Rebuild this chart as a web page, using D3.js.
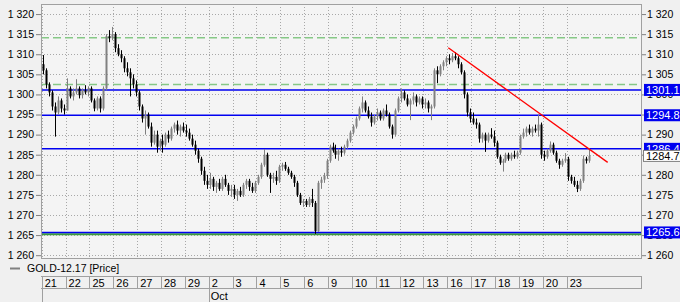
<!DOCTYPE html>
<html><head><meta charset="utf-8">
<script src="https://cdn.jsdelivr.net/npm/d3@7"></script>
<style>
body{margin:0;background:#f0f0f0;}
svg{display:block;font-family:"Liberation Sans",Arial,sans-serif;}
</style>
</head><body><svg id="c" width="680" height="302"></svg>
<script>
// ---------- data ----------
const dayLabels = ["21","22","25","26","27","28","29","2","3","4","5","6","9","10","11","12","13","16","17","18","19","20","23"];
const monthLabels = [{day: 7, text: "Oct"}];
const yTicks = [1260,1265,1270,1275,1280,1285,1290,1295,1300,1305,1310,1315,1320];
const barsPerDay = 8;
// [open, high, low, close], 8 bars per trading day
const ohlc = [
 // 21
 [1307.5,1309.8,1305,1306],[1306,1306.5,1301.5,1302.5],[1302.5,1303,1299.5,1300.5],[1300.5,1301,1296,1297],
 [1297,1298,1289.5,1295.5],[1295.5,1299.5,1295,1298.5],[1298.5,1299,1295.5,1296.5],[1296.5,1297.5,1295,1296],
 // 22
 [1296,1304,1296,1301.5],[1301.5,1302,1299,1299.5],[1299.5,1301.5,1298.5,1300.5],[1300.5,1303.8,1300,1301.5],
 [1301.5,1302,1299,1299.8],[1299.8,1301.5,1299,1301],[1301,1302.3,1300,1300.5],[1300.5,1302,1299.5,1301.5],
 // 25
 [1301.5,1302,1298,1298.5],[1298.5,1299,1295.8,1296.5],[1296.5,1299.5,1296,1299],[1299,1299.5,1295.5,1296.5],
 [1296.5,1302,1296,1301.5],[1301.5,1315,1301,1314.5],[1314.5,1316,1313,1314],[1314,1316.8,1313.5,1315],
 // 26
 [1315,1315.5,1310.5,1311.5],[1311.5,1312.5,1309.5,1310],[1310,1311,1308,1309],[1309,1309.5,1305.5,1306.5],
 [1306.5,1308,1304.5,1305.5],[1305.5,1306.5,1299.5,1304],[1304,1305,1301.5,1302.5],[1302.5,1303.5,1299.5,1300.5],
 // 27
 [1300.5,1301,1296,1297],[1297,1297.5,1293,1294],[1294,1296,1290,1295],[1295,1295.5,1291.5,1292],
 [1292,1293,1287,1288],[1288,1291,1287.5,1290],[1290,1291,1285.5,1287],[1287,1289,1286,1288.5],
 // 28
 [1288.5,1290,1285.5,1287.5],[1287.5,1290.5,1287,1290],[1290,1291,1288,1289],[1289,1292,1288.5,1291.5],
 [1291.5,1293,1290.5,1292.5],[1292.5,1293.5,1290,1291],[1291,1292.5,1289.5,1292],[1292,1293,1290.5,1291],
 // 29
 [1291,1292.5,1289.5,1290.5],[1290.5,1291.5,1288.5,1289],[1289,1290,1287,1287.5],[1287.5,1288.5,1285,1286],
 [1286,1286.5,1283,1284],[1284,1284.5,1280,1281],[1281,1282,1277.5,1278.5],[1278.5,1280,1276.5,1277.5],
 // 2 Oct
 [1277.5,1280.5,1276.5,1279],[1279,1279.5,1276,1277],[1277,1278.5,1275.5,1278],[1278,1279,1276,1276.5],
 [1276.5,1279.5,1276,1279],[1279,1280,1277,1277.5],[1277.5,1278,1275,1276],[1276,1277.5,1274.5,1276.5],
 // 3
 [1276.5,1277.5,1274,1275],[1275,1276.5,1273.5,1276],[1276,1277,1274.5,1275],[1275,1278,1274.5,1277.5],
 [1277.5,1279,1276.5,1278.5],[1278.5,1279,1276,1277],[1277,1278,1275.5,1276],[1276,1278.5,1275.5,1278],
 // 4
 [1278,1280,1277.5,1279.5],[1279.5,1283,1279,1282.5],[1282.5,1286.4,1282,1285],[1285,1285.5,1279.5,1280],
 [1280,1280.5,1275.5,1279],[1279,1280.5,1278,1279.5],[1279.5,1281,1277.5,1278.5],[1278.5,1282.5,1278,1282],
 // 5
 [1282,1283,1281,1282.5],[1282.5,1283.2,1281,1281.5],[1281.5,1282,1280,1280.5],[1280.5,1281,1279,1279.5],
 [1279.5,1280,1277,1278],[1278,1278.5,1274.5,1275],[1275,1275.5,1272.5,1273],[1273,1274,1272,1273.5],
 // 6
 [1273.5,1274,1272,1272.5],[1272.5,1274.5,1272,1274],[1274,1276.5,1272,1273],[1273,1273.5,1265.3,1266],
 [1266,1278.5,1265.8,1278],[1278,1279.5,1276.5,1278.8],[1278.8,1280.5,1278,1279.8],[1279.8,1284,1279,1283.5],
 // 9
 [1283.5,1287.5,1283,1287],[1287,1288,1285.5,1286],[1286,1287.5,1284,1285],[1285,1286.5,1283.5,1286],
 [1286,1287,1284.5,1285.5],[1285.5,1287.5,1285,1287],[1287,1289,1286.5,1288.5],[1288.5,1291,1288,1290.5],
 // 10
 [1290.5,1292.5,1290,1292],[1292,1294.5,1291.5,1294],[1294,1297,1293.5,1296.5],[1296.5,1299.5,1295.5,1298],
 [1298,1298.5,1295.5,1296],[1296,1297,1294,1294.5],[1294.5,1295.5,1292,1293],[1293,1295,1292.5,1294.5],
 // 11
 [1294.5,1296.5,1293.5,1295.5],[1295.5,1296,1293.5,1294],[1294,1296.5,1293.5,1296],[1296,1297.5,1294.5,1295],
 [1295,1295.5,1291.5,1292],[1292,1292.5,1289,1290],[1290,1296.5,1289.5,1296],[1296,1299.5,1295.5,1299],
 // 12
 [1299,1301.5,1298,1300.5],[1300.5,1301,1298.5,1299],[1299,1300,1297,1297.5],[1297.5,1299,1293.6,1298.5],
 [1298.5,1300.5,1297.5,1299.5],[1299.5,1300,1297,1298],[1298,1299.5,1297.5,1299],[1299,1299.5,1296.5,1297.5],
 // 13
 [1297.5,1299,1296.5,1298],[1298,1298.5,1295.5,1296.5],[1296.5,1297.5,1293.6,1297],[1297,1306.5,1296.5,1306],
 [1306,1307,1302.8,1305],[1305,1307.5,1304.5,1307],[1307,1308.5,1306,1308],[1308,1309.5,1307,1309],
 // 16
 [1309,1310,1307.5,1308.5],[1308.5,1310.3,1308,1309.5],[1309.5,1310.5,1308.5,1309],[1309,1309.5,1306.5,1307.5],
 [1307.5,1308,1305,1305.5],[1305.5,1306,1299,1300],[1300,1300.5,1294.5,1295.5],[1295.5,1296.5,1293,1294],
 // 17
 [1294,1295.5,1292.5,1293],[1293,1294,1291.5,1292.5],[1292.5,1293,1288,1289],[1289,1290.5,1288,1290],
 [1290,1290.5,1285.7,1288.5],[1288.5,1290.5,1288,1290],[1290,1291.6,1289,1289.5],[1289.5,1291,1287,1288],
 // 18
 [1288,1288.5,1284,1284.5],[1284.5,1285,1282.5,1283],[1283,1284,1280.8,1283.5],[1283.5,1285.5,1283,1285],
 [1285,1285.5,1283.5,1284],[1284,1285.5,1283.5,1285],[1285,1286,1284,1284.5],[1284.5,1286,1284,1285.5],
 // 19
 [1285.5,1290,1285,1289.5],[1289.5,1291.5,1289,1290.5],[1290.5,1292,1289.5,1291.5],[1291.5,1292.5,1290,1290.5],
 [1290.5,1292,1289.5,1291.5],[1291.5,1292.5,1290.5,1291],[1291,1295,1289.5,1292.5],[1292.5,1293,1284,1285],
 // 20
 [1285,1286,1283.5,1284.5],[1284.5,1286.5,1284,1286],[1286,1288.3,1285.5,1287.5],[1287.5,1288,1285,1285.5],
 [1285.5,1286,1283,1283.5],[1283.5,1284,1281.5,1282.5],[1282.5,1284,1282,1283.5],[1283.5,1285.4,1283,1284],
 // 23
 [1284,1284.5,1278.5,1279.5],[1279.5,1280,1277.8,1278.5],[1278.5,1279.5,1277,1277.5],[1277.5,1278.5,1275.7,1276.5],
 [1276.5,1279,1276,1278.5],[1278.5,1284.8,1278,1284],[1284,1284.5,1282.8,1283.5],[1283.5,1286.6,1283,1284.7]
];
const greenDashedLevels = [1314.1, 1302.5];
const blueLevels = [1301.12, 1294.82, 1286.46, 1265.66];
const greenSolidLevels = [1265.2];
const trendLine = [[17.04, 1311.6], [23.72, 1283.1]];   // [day index, price]
const lastPrice = 1284.70;
const seriesName = "GOLD-12.17 [Price]";

// ---------- layout ----------
const svg = d3.select("#c");
const L = 41, R = 642, T = 4, B = 258;
const x = d3.scaleLinear().domain([0, 25.15]).range([41.7, 641.8]);
const y = d3.scaleLinear().domain([1259.3, 1322.5]).range([B, T]);
const fmt = d => d3.format(",")(d).replace(/,/g, " ");
const fontSize = "10.5px";

svg.append("rect").attr("x",0).attr("y",0).attr("width",680).attr("height",302).attr("fill","#f0f0f0");
svg.append("rect").attr("x",L).attr("y",T).attr("width",R-L).attr("height",B-T).attr("fill","#f4f4f4");

svg.append("clipPath").attr("id","clip").append("rect").attr("x",L).attr("y",T).attr("width",R-L).attr("height",B-T);
const plot = svg.append("g").attr("clip-path","url(#clip)");

// grid
plot.selectAll("line.hg").data(yTicks).join("line")
  .attr("x1",L).attr("x2",R).attr("y1",d=>Math.round(y(d))+0.5).attr("y2",d=>Math.round(y(d))+0.5)
  .attr("stroke","#a8a8a8").attr("stroke-dasharray","1,2");
plot.selectAll("line.vg").data(d3.range(dayLabels.length)).join("line")
  .attr("x1",d=>Math.round(x(d))+0.5).attr("x2",d=>Math.round(x(d))+0.5).attr("y1",T).attr("y2",B)
  .attr("stroke","#a8a8a8").attr("stroke-dasharray","1,2");

// level lines
plot.selectAll("line.gd").data(greenDashedLevels).join("line")
  .attr("x1",L).attr("x2",R).attr("y1",d=>y(d)).attr("y2",d=>y(d))
  .attr("stroke","#86c886").attr("stroke-width",1.5).attr("stroke-dasharray","8,4");
plot.selectAll("line.gs").data(greenSolidLevels).join("line")
  .attr("x1",L).attr("x2",R).attr("y1",d=>y(d)).attr("y2",d=>y(d))
  .attr("stroke","#3c9c3c").attr("stroke-width",2);
plot.selectAll("line.bl").data(blueLevels).join("line")
  .attr("x1",L).attr("x2",R).attr("y1",d=>y(d)).attr("y2",d=>y(d))
  .attr("stroke","#0000f0").attr("stroke-width",1.5);

// candles
const bw = (x(1)-x(0))/barsPerDay;
const bx = i => x(Math.floor(i/barsPerDay)) + (i%barsPerDay + 0.5)*bw;
const cg = plot.append("g");
ohlc.forEach((b,i) => {
  const [o,h,l,c] = b;
  const col = c >= o ? "#808080" : "#000000";
  const cx = Math.round(bx(i));
  cg.append("line").attr("x1",cx+0.5).attr("x2",cx+0.5).attr("y1",y(h)).attr("y2",y(l)).attr("stroke",col).attr("stroke-width",1);
  const top = y(Math.max(o,c)), bot = y(Math.min(o,c));
  cg.append("rect").attr("x",cx-0.5).attr("width",2).attr("y",top).attr("height",Math.max(1,bot-top)).attr("fill",col);
});

// trend line
plot.append("line")
  .attr("x1",x(trendLine[0][0])).attr("y1",y(trendLine[0][1]))
  .attr("x2",x(trendLine[1][0])).attr("y2",y(trendLine[1][1]))
  .attr("stroke","#ff0000").attr("stroke-width",1.3);

// plot border
svg.append("rect").attr("x",L+0.5).attr("y",T+0.5).attr("width",R-L-1).attr("height",B-T).attr("fill","none").attr("stroke","#a0a0a0");

// axes
const la = svg.append("g").attr("transform",`translate(${L},0)`)
  .call(d3.axisLeft(y).tickValues(yTicks).tickFormat(fmt).tickSize(5).tickPadding(2));
const ra = svg.append("g").attr("transform",`translate(${R},0)`)
  .call(d3.axisRight(y).tickValues(yTicks).tickFormat(fmt).tickSize(4).tickPadding(1));
[la,ra].forEach(a => {
  a.select(".domain").remove();
  a.selectAll("line").attr("stroke","#808080");
  a.selectAll("text").attr("fill","#000").style("font-size",fontSize).style("font-family",'"Liberation Sans",Arial,sans-serif');
});

// right-side value labels
const lab = svg.append("g");
blueLevels.forEach(v => {
  lab.append("rect").attr("x",644).attr("y",y(v)-6).attr("width",40).attr("height",12).attr("fill","#0000f0");
  lab.append("text").attr("x",646).attr("y",y(v)).attr("dy","0.35em").attr("fill","#fff")
    .style("font-size","11px").text(d3.format(".2f")(v));
});
lab.append("rect").attr("x",643.5).attr("y",y(lastPrice)-5.5).attr("width",40).attr("height",11).attr("fill","#fff").attr("stroke","#808080");
lab.append("text").attr("x",646).attr("y",y(lastPrice)).attr("dy","0.35em").attr("fill","#000")
  .style("font-size","11px").text(d3.format(".2f")(lastPrice));

// legend
svg.append("line").attr("x1",10).attr("x2",20).attr("y1",268.5).attr("y2",268.5).attr("stroke","#808080").attr("stroke-width",2);
svg.append("text").attr("x",27).attr("y",272).style("font-size","10.5px").attr("fill","#000").text(seriesName);

// date axis band
const band = svg.append("g");
band.append("line").attr("x1",L).attr("x2",R).attr("y1",276.5).attr("y2",276.5).attr("stroke","#a0a0a0");
band.append("line").attr("x1",L).attr("x2",R).attr("y1",288.5).attr("y2",288.5).attr("stroke","#a0a0a0");
band.append("line").attr("x1",R-0.5).attr("x2",R-0.5).attr("y1",276).attr("y2",289).attr("stroke","#a0a0a0");
band.selectAll("line.sep").data(dayLabels).join("line")
  .attr("x1",(d,i)=>Math.round(x(i))+0.5).attr("x2",(d,i)=>Math.round(x(i))+0.5)
  .attr("y1",276).attr("y2",289).attr("stroke","#a0a0a0");
band.selectAll("text.day").data(dayLabels).join("text")
  .attr("x",(d,i)=>x(i)+3).attr("y",286.5).style("font-size","11px").attr("fill","#000").text(d=>d);
band.append("line").attr("x1",Math.round(x(0))+0.5).attr("x2",Math.round(x(0))+0.5).attr("y1",289).attr("y2",302).attr("stroke","#a0a0a0");
monthLabels.forEach(m => {
  band.append("line").attr("x1",Math.round(x(m.day))+0.5).attr("x2",Math.round(x(m.day))+0.5).attr("y1",289).attr("y2",302).attr("stroke","#a0a0a0");
  band.append("text").attr("x",x(m.day)+2).attr("y",300).style("font-size","11px").attr("fill","#000").text(m.text);
});
</script>
</body></html>
